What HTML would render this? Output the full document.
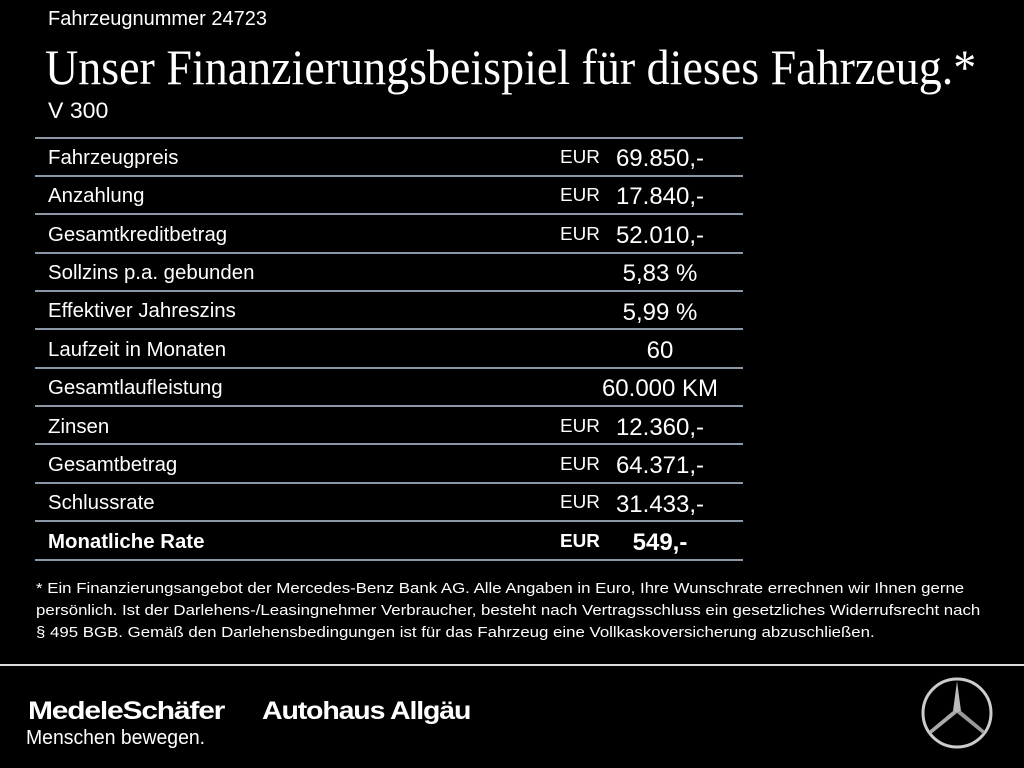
<!DOCTYPE html>
<html><head><meta charset="utf-8"><style>
body{margin:0;width:1024px;height:768px;background:#000;color:#fff;font-family:"Liberation Sans",sans-serif;position:relative;overflow:hidden}
.a{position:absolute;white-space:nowrap}
.c{transform-origin:0 0;display:inline-block}
.line{position:absolute;left:35px;width:708px;height:2px;background:#8a97a6}
.lab{position:absolute;left:48px;font-size:20px;transform:scaleX(1.02);transform-origin:0 0}
.eur{position:absolute;left:560px;font-size:18px;transform:scaleX(1.05);transform-origin:0 0}
.val{position:absolute;width:200px;left:560px;text-align:center;font-size:24px}
</style></head><body>
<div class="a" style="left:48px;top:8px;font-size:20px"><span class="c" style="transform:scaleX(1.0)">Fahrzeugnummer 24723</span></div>
<div class="a" style="left:45px;top:38px;font-family:'Liberation Serif',serif;font-size:50px"><span class="c" style="transform:scaleX(0.92)">Unser Finanzierungsbeispiel für dieses Fahrzeug.*</span></div>
<div class="a" style="left:48px;top:98px;font-size:22px"><span class="c" style="transform:scaleX(1.05)">V 300</span></div>
<div class="line" style="top:137px"></div>
<div class="line" style="top:175px"></div>
<div class="line" style="top:213px"></div>
<div class="line" style="top:252px"></div>
<div class="line" style="top:290px"></div>
<div class="line" style="top:328px"></div>
<div class="line" style="top:367px"></div>
<div class="line" style="top:405px"></div>
<div class="line" style="top:443px"></div>
<div class="line" style="top:482px"></div>
<div class="line" style="top:520px"></div>
<div class="line" style="top:559px"></div>

<div class="lab" style="top:147px">Fahrzeugpreis</div><div class="eur" style="top:147px">EUR</div><div class="val" style="top:145px">69.850,-</div>
<div class="lab" style="top:185px">Anzahlung</div><div class="eur" style="top:185px">EUR</div><div class="val" style="top:183px">17.840,-</div>
<div class="lab" style="top:224px">Gesamtkreditbetrag</div><div class="eur" style="top:224px">EUR</div><div class="val" style="top:222px">52.010,-</div>
<div class="lab" style="top:262px">Sollzins p.a. gebunden</div><div class="val" style="top:260px">5,83 %</div>
<div class="lab" style="top:300px">Effektiver Jahreszins</div><div class="val" style="top:299px">5,99 %</div>
<div class="lab" style="top:339px">Laufzeit in Monaten</div><div class="val" style="top:337px">60</div>
<div class="lab" style="top:377px">Gesamtlaufleistung</div><div class="val" style="top:375px">60.000 KM</div>
<div class="lab" style="top:416px">Zinsen</div><div class="eur" style="top:416px">EUR</div><div class="val" style="top:414px">12.360,-</div>
<div class="lab" style="top:454px">Gesamtbetrag</div><div class="eur" style="top:454px">EUR</div><div class="val" style="top:452px">64.371,-</div>
<div class="lab" style="top:492px">Schlussrate</div><div class="eur" style="top:492px">EUR</div><div class="val" style="top:491px">31.433,-</div>
<div class="lab" style="top:531px;font-weight:bold">Monatliche Rate</div><div class="eur" style="top:531px;font-weight:bold">EUR</div><div class="val" style="top:529px;font-weight:bold">549,-</div>

<div class="a" style="left:36px;top:578px;font-size:14.5px;line-height:22px"><span class="c" style="transform:scaleX(1.16)">* Ein Finanzierungsangebot der Mercedes-Benz Bank AG. Alle Angaben in Euro, Ihre Wunschrate errechnen wir Ihnen gerne<br>persönlich. Ist der Darlehens-/Leasingnehmer Verbraucher, besteht nach Vertragsschluss ein gesetzliches Widerrufsrecht nach<br>§ 495 BGB. Gemäß den Darlehensbedingungen ist für das Fahrzeug eine Vollkaskoversicherung abzuschließen.</span></div>
<div class="a" style="left:0;top:664px;width:1024px;height:2px;background:#ddd"></div>
<div class="a" style="left:28px;top:697px;font-size:25px;font-weight:bold;letter-spacing:-1px"><span class="c" style="transform:scaleX(1.2)">MedeleSchäfer</span></div>
<div class="a" style="left:262px;top:697px;font-size:25px;font-weight:bold;letter-spacing:-1px"><span class="c" style="transform:scaleX(1.14)">Autohaus Allgäu</span></div>
<div class="a" style="left:26px;top:727px;font-size:20px"><span class="c" style="transform:scaleX(0.97)">Menschen bewegen.</span></div>
<svg class="a" style="left:920px;top:676px" width="74" height="74" viewBox="0 0 74 74">
<circle cx="37" cy="37" r="34" fill="none" stroke="#ccc" stroke-width="3"/>
<polygon points="37,5 41,35 37,37 33,35" fill="#bbb"/>
<polygon points="37,37 41,35 65,55 63,58" fill="#999"/>
<polygon points="37,37 33,35 9,55 11,58" fill="#aaa"/>
</svg>
</body></html>
